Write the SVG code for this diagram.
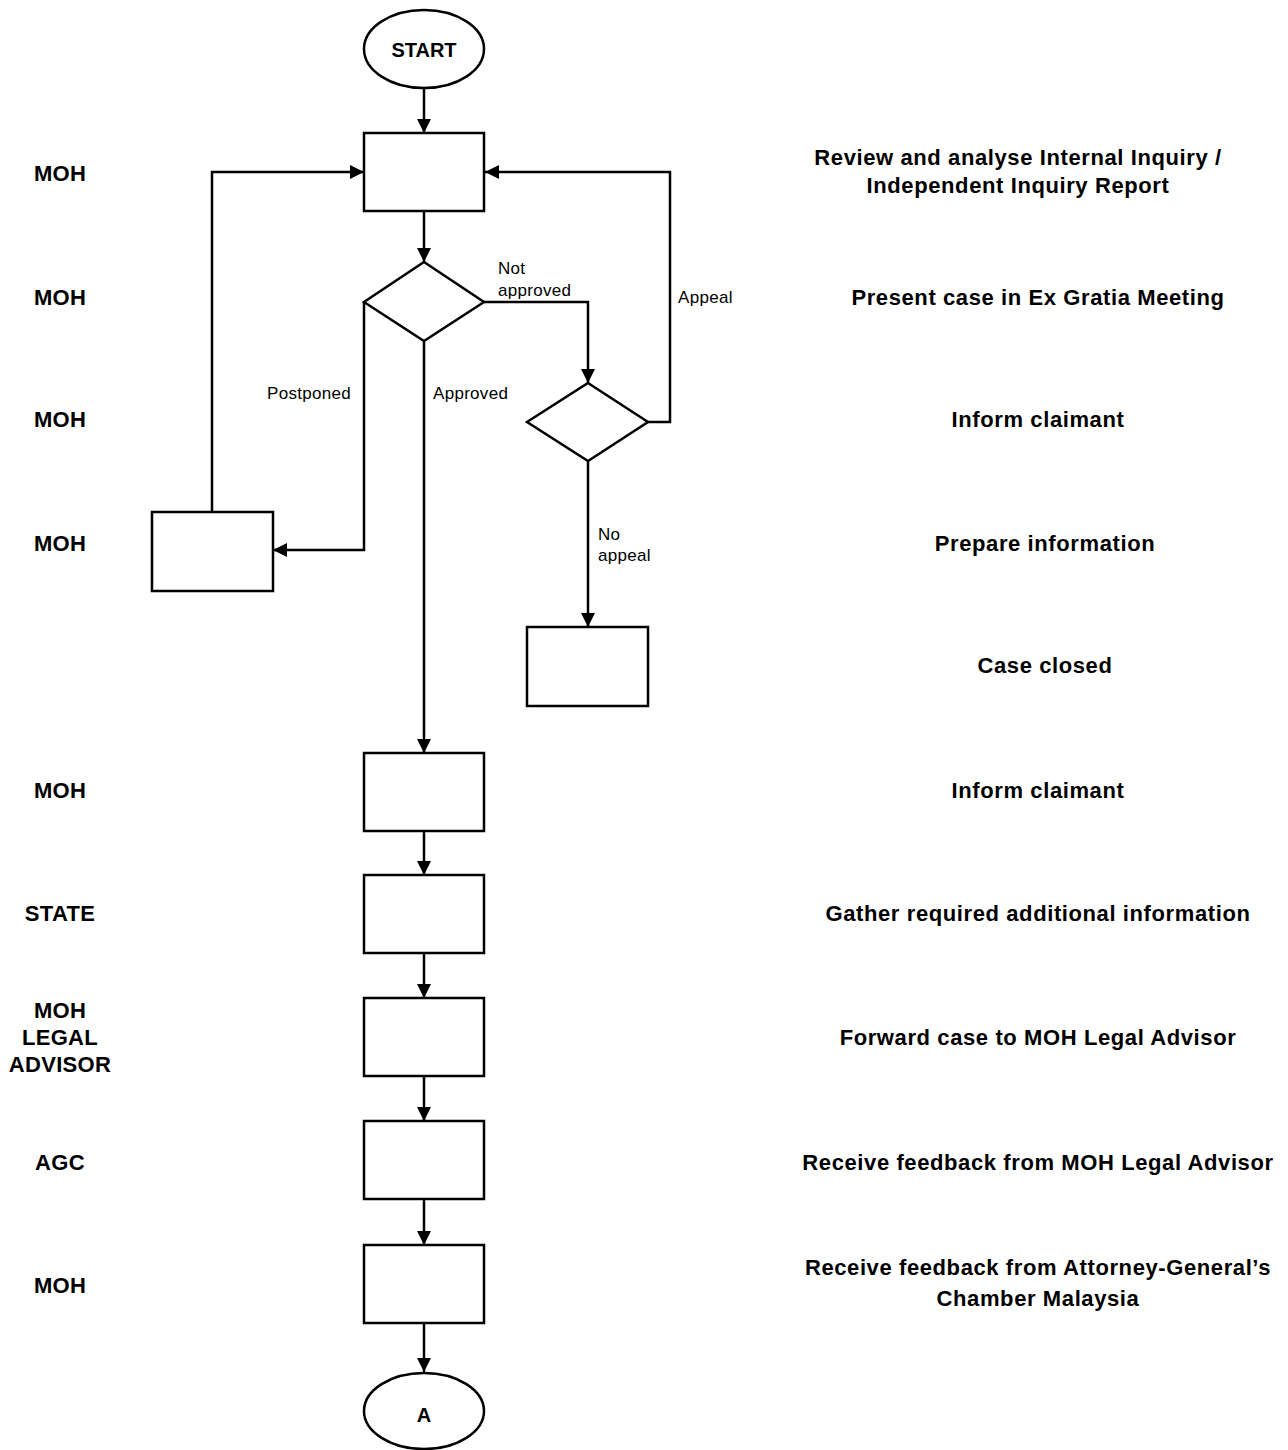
<svg xmlns="http://www.w3.org/2000/svg" width="1288" height="1450" viewBox="0 0 1288 1450">
<style>
.shape{fill:#fff;stroke:#000;stroke-width:2.5}
.conn{fill:none;stroke:#000;stroke-width:2.5}
.role{font-family:"Liberation Sans",Arial,sans-serif;font-weight:bold;font-size:22px;letter-spacing:0.3px;text-anchor:middle;fill:#000}
.desc{font-family:"Liberation Sans",Arial,sans-serif;font-weight:bold;font-size:22px;letter-spacing:0.6px;text-anchor:middle;fill:#000}
.lbl{font-family:"Liberation Sans",Arial,sans-serif;font-size:17px;letter-spacing:0.3px;fill:#000}
.term{font-family:"Liberation Sans",Arial,sans-serif;font-weight:bold;font-size:20px;text-anchor:middle;fill:#000}
</style>
<defs>
<marker id="arr" viewBox="0 0 10 10" refX="10" refY="5" markerWidth="14" markerHeight="14" markerUnits="userSpaceOnUse" orient="auto">
<path d="M0,0 L10,5 L0,10 z" fill="#000"/>
</marker>
</defs>
<rect width="1288" height="1450" fill="#fff"/>

<g id="connectors">
<line class="conn" x1="424" y1="88" x2="424" y2="133" marker-end="url(#arr)"/>
<line class="conn" x1="424" y1="211" x2="424" y2="262" marker-end="url(#arr)"/>
<polyline class="conn" points="484,302 588,302 588,383" marker-end="url(#arr)"/>
<polyline class="conn" points="648,422 670,422 670,172 485,172" marker-end="url(#arr)"/>
<polyline class="conn" points="364,302 364,550 273,550" marker-end="url(#arr)"/>
<polyline class="conn" points="212,512 212,172 364,172" marker-end="url(#arr)"/>
<line class="conn" x1="424" y1="341" x2="424" y2="753" marker-end="url(#arr)"/>
<line class="conn" x1="588" y1="461" x2="588" y2="627" marker-end="url(#arr)"/>
<line class="conn" x1="424" y1="831" x2="424" y2="875" marker-end="url(#arr)"/>
<line class="conn" x1="424" y1="953" x2="424" y2="998" marker-end="url(#arr)"/>
<line class="conn" x1="424" y1="1076" x2="424" y2="1121" marker-end="url(#arr)"/>
<line class="conn" x1="424" y1="1199" x2="424" y2="1245" marker-end="url(#arr)"/>
<line class="conn" x1="424" y1="1323" x2="424" y2="1372" marker-end="url(#arr)"/>
<text class="lbl" x="498" y="274">Not</text>
<text class="lbl" x="498" y="296">approved</text>
<text class="lbl" x="678" y="303">Appeal</text>
<text class="lbl" x="267" y="399">Postponed</text>
<text class="lbl" x="433" y="399">Approved</text>
<text class="lbl" x="598" y="540">No</text>
<text class="lbl" x="598" y="561">appeal</text>
</g>

<g id="start"><ellipse class="shape" cx="424" cy="49" rx="60" ry="39"/><text class="term" x="424" y="57">START</text></g>
<g id="review"><rect class="shape" x="364" y="133" width="120" height="78"/></g>
<g id="present"><polygon class="shape" points="424,262 484,302 424,341 364,302"/></g>
<g id="inform1"><polygon class="shape" points="588,383 648,422 588,461 527,422"/></g>
<g id="prepare"><rect class="shape" x="152" y="512" width="121" height="79"/></g>
<g id="closed"><rect class="shape" x="527" y="627" width="121" height="79"/></g>
<g id="inform2"><rect class="shape" x="364" y="753" width="120" height="78"/></g>
<g id="gather"><rect class="shape" x="364" y="875" width="120" height="78"/></g>
<g id="forward"><rect class="shape" x="364" y="998" width="120" height="78"/></g>
<g id="feedback1"><rect class="shape" x="364" y="1121" width="120" height="78"/></g>
<g id="feedback2"><rect class="shape" x="364" y="1245" width="120" height="78"/></g>
<g id="endA"><ellipse class="shape" cx="424" cy="1411" rx="60" ry="38"/><text class="term" x="424" y="1422">A</text></g>

<g id="roles">
<text class="role" x="60" y="181">MOH</text>
<text class="role" x="60" y="305">MOH</text>
<text class="role" x="60" y="427">MOH</text>
<text class="role" x="60" y="551">MOH</text>
<text class="role" x="60" y="798">MOH</text>
<text class="role" x="60" y="921">STATE</text>
<text class="role" x="60" y="1018">MOH</text>
<text class="role" x="60" y="1045">LEGAL</text>
<text class="role" x="60" y="1072">ADVISOR</text>
<text class="role" x="60" y="1170">AGC</text>
<text class="role" x="60" y="1293">MOH</text>
</g>

<g id="descriptions">
<text class="desc" x="1018" y="165">Review and analyse Internal Inquiry /</text>
<text class="desc" x="1018" y="193">Independent Inquiry Report</text>
<text class="desc" x="1038" y="305">Present case in Ex Gratia Meeting</text>
<text class="desc" x="1038" y="427">Inform claimant</text>
<text class="desc" x="1045" y="551">Prepare information</text>
<text class="desc" x="1045" y="673">Case closed</text>
<text class="desc" x="1038" y="798">Inform claimant</text>
<text class="desc" x="1038" y="921">Gather required additional information</text>
<text class="desc" x="1038" y="1045">Forward case to MOH Legal Advisor</text>
<text class="desc" x="1038" y="1170">Receive feedback from MOH Legal Advisor</text>
<text class="desc" x="1038" y="1275">Receive feedback from Attorney-General’s</text>
<text class="desc" x="1038" y="1306">Chamber Malaysia</text>
</g>
</svg>
